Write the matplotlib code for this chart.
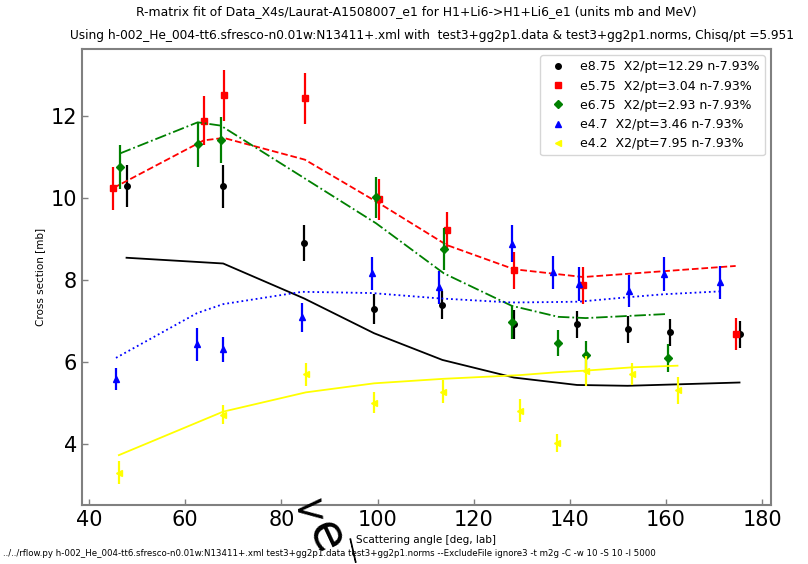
import matplotlib
matplotlib.use("Agg")
import matplotlib.pyplot as plt

# ---- data: e8.75 (black) ----
x_e875 = [47.8, 67.9, 84.7, 99.3, 113.5, 128.4, 141.5, 152.0, 160.9, 175.3]
y_e875 = [10.29, 10.28, 8.90, 7.29, 7.39, 6.92, 6.92, 6.80, 6.72, 6.68]
e_e875 = [0.52, 0.52, 0.45, 0.36, 0.35, 0.35, 0.33, 0.33, 0.33, 0.33]
f_e875 = [8.54, 8.40, 7.55, 6.70, 6.05, 5.62, 5.44, 5.42, 5.45, 5.50]

# ---- data: e5.75 (red) ----
x_e575 = [45.05, 63.85, 68.0, 84.9, 100.3, 114.4, 128.4, 142.8, 174.5]
y_e575 = [10.23, 11.88, 12.50, 12.43, 9.97, 9.21, 8.23, 7.87, 6.68]
e_e575 = [0.52, 0.60, 0.62, 0.62, 0.50, 0.44, 0.46, 0.45, 0.40]
f_e575 = [10.24, 11.40, 11.46, 10.93, 9.87, 8.85, 8.26, 8.07, 8.34]

# ---- data: e6.75 (green) ----
x_e675 = [46.4, 62.6, 67.4, 99.7, 113.8, 127.9, 137.6, 143.3, 160.4]
y_e675 = [10.75, 11.31, 11.41, 10.01, 8.75, 6.97, 6.46, 6.16, 6.10]
e_e675 = [0.53, 0.55, 0.56, 0.50, 0.52, 0.40, 0.32, 0.35, 0.35]
f_e675 = [11.08, 11.84, 11.76, 9.38, 8.16, 7.37, 7.10, 7.07, 7.17]

# ---- data: e4.7 (blue) ----
x_e47 = [45.6, 62.45, 67.9, 84.3, 98.8, 112.8, 127.9, 136.4, 141.9, 152.3, 159.5, 171.2]
y_e47 = [5.58, 6.43, 6.31, 7.09, 8.16, 7.82, 8.88, 8.19, 7.90, 7.73, 8.14, 7.94]
e_e47 = [0.27, 0.40, 0.31, 0.35, 0.41, 0.40, 0.45, 0.40, 0.41, 0.40, 0.41, 0.40]
f_e47 = [6.10, 7.19, 7.41, 7.71, 7.68, 7.55, 7.45, 7.46, 7.47, 7.58, 7.65, 7.72]

# ---- data: e4.2 (yellow) ----
x_e42 = [46.2, 67.9, 85.1, 99.3, 113.7, 129.6, 137.3, 143.3, 153.0, 162.4]
y_e42 = [3.30, 4.71, 5.70, 5.01, 5.28, 4.81, 4.02, 5.78, 5.71, 5.31]
e_e42 = [0.28, 0.23, 0.28, 0.25, 0.27, 0.28, 0.22, 0.37, 0.27, 0.33]
f_e42 = [3.73, 4.79, 5.26, 5.48, 5.59, 5.68, 5.75, 5.79, 5.87, 5.91]

labels = ["e8.75  X2/pt=12.29 n-7.93%",
          "e5.75  X2/pt=3.04 n-7.93%",
          "e6.75  X2/pt=2.93 n-7.93%",
          "e4.7  X2/pt=3.46 n-7.93%",
          "e4.2  X2/pt=7.95 n-7.93%"]

title1 = "R-matrix fit of Data_X4s/Laurat-A1508007_e1 for H1+Li6->H1+Li6_e1 (units mb and MeV)"
title2 = ("Using h-002_He_004-tt6.sfresco-n0.01w:N13411+.xml with  test3+gg2p1.data & "
          "test3+gg2p1.norms, Chisq/pt =5.951")
cmdline = ("../../rflow.py h-002_He_004-tt6.sfresco-n0.01w:N13411+.xml test3+gg2p1.data "
           "test3+gg2p1.norms --ExcludeFile ignore3 -t m2g -C -w 10 -S 10 -I 5000")

series = [
    (x_e875, y_e875, e_e875, f_e875, 'black', 'o', 4, '-'),
    (x_e575, y_e575, e_e575, f_e575, 'red', 's', 5, '--'),
    (x_e675, y_e675, e_e675, f_e675, 'green', 'D', 4, '-.'),
    (x_e47, y_e47, e_e47, f_e47, 'blue', '^', 5, ':'),
    (x_e42, y_e42, e_e42, f_e42, 'yellow', '<', 5, '-'),
]

fig = plt.figure(figsize=(8.08, 5.64), dpi=100)
ax = fig.add_axes([0.1015, 0.1046, 0.8525, 0.8084])

for (x, y, e, f, c, m, ms, ls), lab in zip(series, labels):
    ax.errorbar(x, y, yerr=e, fmt='none', ecolor=c, elinewidth=1.6, capsize=0)
    ax.plot(x, y, linestyle='none', marker=m, color=c, markersize=ms, label=lab)
    ax.plot(x, f, linestyle=ls, color=c, linewidth=1.3)

ax.set_xticks([40, 60, 80, 100, 120, 140, 160, 180])
ax.set_yticks([4, 6, 8, 10, 12])
ax.tick_params(direction='in', labelsize=15, color='gray', length=4, width=1)
for s in ax.spines.values():
    s.set_color('gray')
    s.set_linewidth(1.5)

ax.set_xlabel("Scattering angle [deg, lab]", fontsize=7.5)
ax.set_ylabel("Cross section [mb]", fontsize=7.5)
ax.legend(loc='upper right', fontsize=9, numpoints=1, handlelength=2)

fig.text(416 / 808, 1 - 12 / 564, title1, ha='center', va='center', fontsize=8.9)
fig.text(70 / 808, 1 - 35 / 564, title2, ha='left', va='center', fontsize=8.75)
fig.text(3 / 808, 1 - 554 / 564, cmdline, ha='left', va='center', fontsize=6.25)

# stray large glyphs overlapping the x axis area
fig.text(310 / 808, 1 - 511 / 564, "<", ha='center', va='center', fontsize=28,
         rotation=5)
fig.text(325 / 808, 1 - 537 / 564, "e", ha='center', va='center', fontsize=36,
         rotation=-65)
fig.text(353 / 808, 1 - 550 / 564, "|", ha='center', va='center', fontsize=17,
         rotation=13)

fig.savefig("out.png", dpi=100)
